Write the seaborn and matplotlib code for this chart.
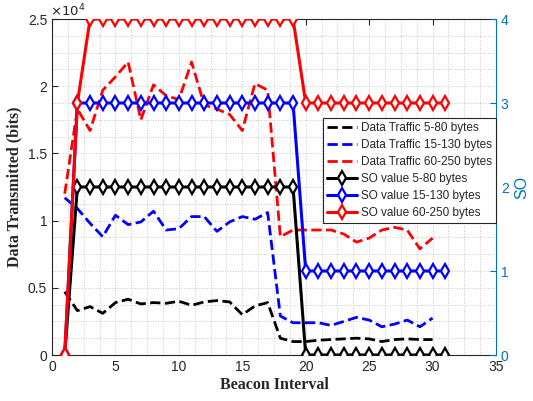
import matplotlib
matplotlib.use("Agg")
import matplotlib.pyplot as plt
from matplotlib.ticker import MultipleLocator, FuncFormatter
import seaborn as sns

# beacon intervals
x_traffic = list(range(1, 31))
x_so = list(range(1, 32))

# data transmitted (bits)
traffic_5_80 = [4700, 3300, 3600, 3100, 3900, 4150, 3800, 3900, 3850, 4000,
                3700, 3950, 4050, 3950, 3000, 3650, 3900, 1250, 1000, 1000,
                1100, 1150, 1200, 1250, 1200, 1000, 1150, 1200, 1150, 1150]
traffic_15_130 = [11700, 10900, 9800, 8800, 10400, 9700, 9900, 10700, 9300, 9400,
                  10300, 10300, 9200, 9900, 10300, 10100, 10600, 2900, 2400, 2400,
                  2400, 2200, 2500, 2800, 2600, 2100, 2300, 2600, 2100, 2750]
traffic_60_250 = [12000, 18300, 16700, 19700, 20700, 21800, 17500, 20100, 19300, 19000,
                  21800, 18600, 18300, 17900, 16700, 20200, 19700, 8800, 9300, 9300,
                  9300, 9300, 9000, 8400, 8700, 9300, 9500, 9300, 7900, 8700]

# superframe order values
so_5_80 = [0, 2, 2, 2, 2, 2, 2, 2, 2, 2, 2, 2, 2, 2, 2, 2, 2, 2, 2,
           0, 0, 0, 0, 0, 0, 0, 0, 0, 0, 0, 0]
so_15_130 = [0, 3, 3, 3, 3, 3, 3, 3, 3, 3, 3, 3, 3, 3, 3, 3, 3, 3, 3,
             1, 1, 1, 1, 1, 1, 1, 1, 1, 1, 1, 1]
so_60_250 = [0, 3, 4, 4, 4, 4, 4, 4, 4, 4, 4, 4, 4, 4, 4, 4, 4, 4, 4,
             3, 3, 3, 3, 3, 3, 3, 3, 3, 3, 3, 3]

labels_traffic = ["Data Traffic 5-80 bytes", "Data Traffic 15-130 bytes",
                  "Data Traffic 60-250 bytes"]
labels_so = ["SO value 5-80 bytes", "SO value 15-130 bytes", "SO value 60-250 bytes"]
colors = ["#000000", "#0000FF", "#FF0000"]
right_color = "#0072BD"

sns.set_style("white")
plt.rcParams["font.family"] = ["Liberation Sans", "DejaVu Sans"]

fig = plt.figure(figsize=(5.33, 4.01), dpi=100)
ax1 = fig.add_axes([0.0976, 0.1147, 0.8330, 0.8379])
ax2 = ax1.twinx()

handles = []
for y, c, lab in zip([traffic_5_80, traffic_15_130, traffic_60_250], colors, labels_traffic):
    sns.lineplot(x=x_traffic, y=y, ax=ax1, color=c, lw=2, ls="--",
                 dashes=False, label=lab, legend=False)
    handles.append(ax1.lines[-1])

for y, c, lab in zip([so_5_80, so_15_130, so_60_250], colors, labels_so):
    sns.lineplot(x=x_so, y=y, ax=ax2, color=c, lw=2.2, marker="d", ms=7,
                 mew=1.6, mfc="white", mec=c, label=lab, legend=False)
    handles.append(ax2.lines[-1])

# left axis
ax1.set_xlim(0, 35)
ax1.set_ylim(0, 25000)
ax1.xaxis.set_major_locator(MultipleLocator(5))
ax1.xaxis.set_minor_locator(MultipleLocator(1.25))
ax1.yaxis.set_major_locator(MultipleLocator(5000))
ax1.yaxis.set_minor_locator(MultipleLocator(1250))
ax1.yaxis.set_major_formatter(FuncFormatter(lambda v, p: f"{v / 1e4:g}"))
ax1.grid(True, which="both", ls=":", lw=0.7, color="#c8c8c8")
ax1.tick_params(which="major", direction="in", length=4, width=0.8,
                labelsize=10, top=True, right=False, colors="#262626")
ax1.tick_params(which="minor", length=0)
for s in ["left", "bottom", "top"]:
    ax1.spines[s].set_color("#262626")
    ax1.spines[s].set_linewidth(0.8)
ax1.spines["right"].set_visible(False)
ax1.set_xlabel("Beacon Interval", family="Liberation Serif", weight="bold",
               fontsize=11.5, labelpad=2)
ax1.set_ylabel("Data Transmitted (bits)", family="Liberation Serif", weight="bold",
               fontsize=11.5, labelpad=4)
ax1.text(-0.005, 1.0, r"$\times10^{4}$", transform=ax1.transAxes, fontsize=9.5,
         ha="left", va="bottom", color="#262626")

# right axis
ax2.set_ylim(0, 4)
ax2.yaxis.set_major_locator(MultipleLocator(1))
ax2.tick_params(direction="in", length=4, width=0.8, labelsize=10,
                colors=right_color)
for s in ["left", "bottom", "top"]:
    ax2.spines[s].set_visible(False)
ax2.spines["right"].set_color(right_color)
ax2.spines["right"].set_linewidth(0.8)
ax2.set_ylabel("SO", color=right_color, fontsize=11.5, labelpad=4)

leg = ax2.legend(handles, labels_traffic + labels_so, loc="upper right",
                 bbox_to_anchor=(1.0, 0.705), fontsize=8.5, frameon=True,
                 fancybox=False, edgecolor="#262626", framealpha=1,
                 handlelength=2.6, handletextpad=0.3, labelspacing=0.42,
                 borderpad=0.35, borderaxespad=0)
leg.get_frame().set_linewidth(0.8)

fig.savefig("out.png", dpi=100)
